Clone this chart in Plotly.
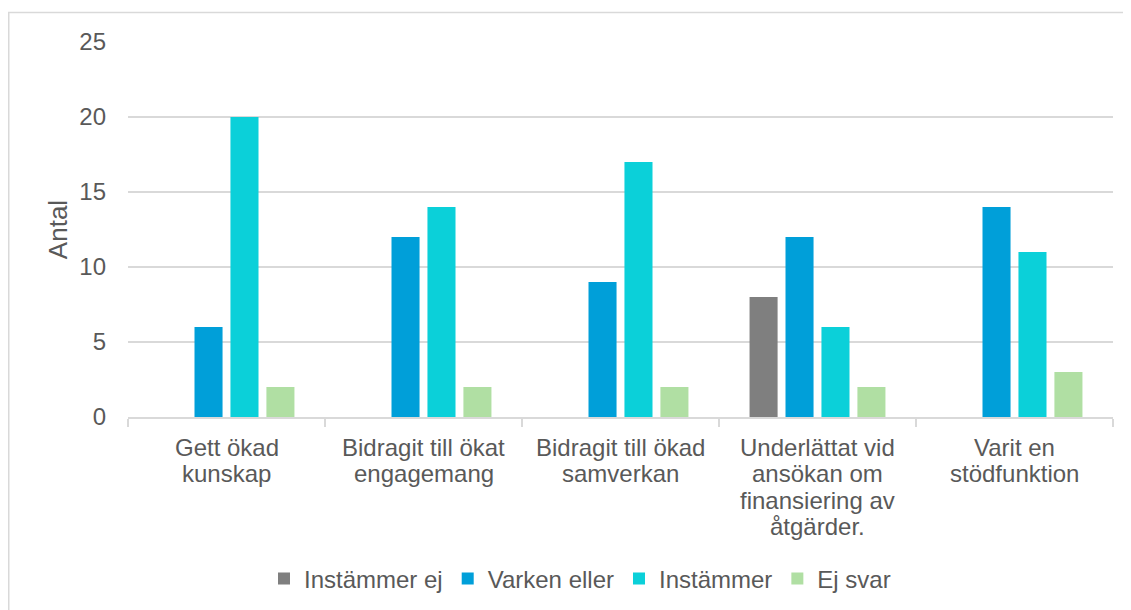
import plotly.graph_objects as go

categories = [
    "Gett ökad<br>kunskap",
    "Bidragit till ökat<br>engagemang",
    "Bidragit till ökad<br>samverkan",
    "Underlättat vid<br>ansökan om<br>finansiering av<br>åtgärder.",
    "Varit en<br>stödfunktion",
]
instammer_ej = [0, 0, 0, 8, 0]
varken_eller = [6, 12, 9, 12, 14]
instammer = [20, 14, 17, 6, 11]
ej_svar = [2, 2, 2, 2, 3]

series = [
    ("Instämmer ej", instammer_ej, "#7F7F7F"),
    ("Varken eller", varken_eller, "#009FD9"),
    ("Instämmer", instammer, "#0BD0D9"),
    ("Ej svar", ej_svar, "#B0DFA3"),
]

OFF = 8  # default body margin of the html page
W, H = 1131 - OFF, 610 - OFF
L, R, T = 128 - OFF, 18, 42 - OFF
ph = 375
B = H - T - ph
pw = W - L - R
FONT = "Liberation Sans, Arial, sans-serif"
GREY = "#595959"

fig = go.Figure()
for name, vals, col in series:
    fig.add_trace(go.Bar(name=name, x=list(range(len(categories))), y=vals,
                         marker_color=col, marker_line_width=0))

# category labels drawn line by line (tight line spacing like the original)
annotations = []
line_h = 26.5
first_line_px = 30  # distance below the axis of the first line's centre
for i, cat in enumerate(categories):
    for j, line in enumerate(cat.split("<br>")):
        annotations.append(dict(
            x=i, xref="x", y=-(first_line_px + j * line_h) / ph, yref="paper",
            text=line, showarrow=False, xanchor="center", yanchor="middle",
            font=dict(family=FONT, size=24, color=GREY)))

fig.update_layout(
    width=W, height=H,
    margin=dict(l=L, r=R, t=T, b=B, autoexpand=False),
    plot_bgcolor="white", paper_bgcolor="white",
    font=dict(family=FONT, color=GREY, size=24),
    barmode="group", bargap=0.27, bargroupgap=0.22,
    showlegend=True,
    legend=dict(orientation="h", x=(580 - 128) / pw, xanchor="center",
                y=-162 / ph, yanchor="middle",
                font=dict(family=FONT, size=24, color=GREY),
                traceorder="normal"),
    xaxis=dict(type="linear", range=[-0.5, len(categories) - 0.5],
               showgrid=False, showline=True, linecolor="#D9D9D9", linewidth=1.5,
               tickmode="array", tickvals=[k + 0.5 for k in range(-1, len(categories))],
               ticks="outside", ticklen=8, tickcolor="#D9D9D9", tickwidth=1.5,
               showticklabels=False, zeroline=False, fixedrange=True),
    yaxis=dict(range=[0, 25], dtick=5, showgrid=True, gridcolor="#D9D9D9", gridwidth=1.5,
               zeroline=False, showline=False, ticks="",
               ticklabelstandoff=21,
               tickfont=dict(size=24, color=GREY),
               title=dict(text="Antal", font=dict(size=26, color=GREY), standoff=4)),
    annotations=annotations,
    shapes=[
        dict(type="line", xref="paper", yref="paper",
             x0=(0 - L) / pw, x1=(W - L) / pw,
             y0=(ph + T - 4.5) / ph, y1=(ph + T - 4.5) / ph,
             line=dict(color="#D9D9D9", width=1.5)),
        dict(type="line", xref="paper", yref="paper",
             x0=(0.75 - L) / pw, x1=(0.75 - L) / pw,
             y0=(ph + T - 4) / ph, y1=-(B + 5) / ph,
             line=dict(color="#D9D9D9", width=1.5)),
    ],
)

fig.write_html("out.html")
